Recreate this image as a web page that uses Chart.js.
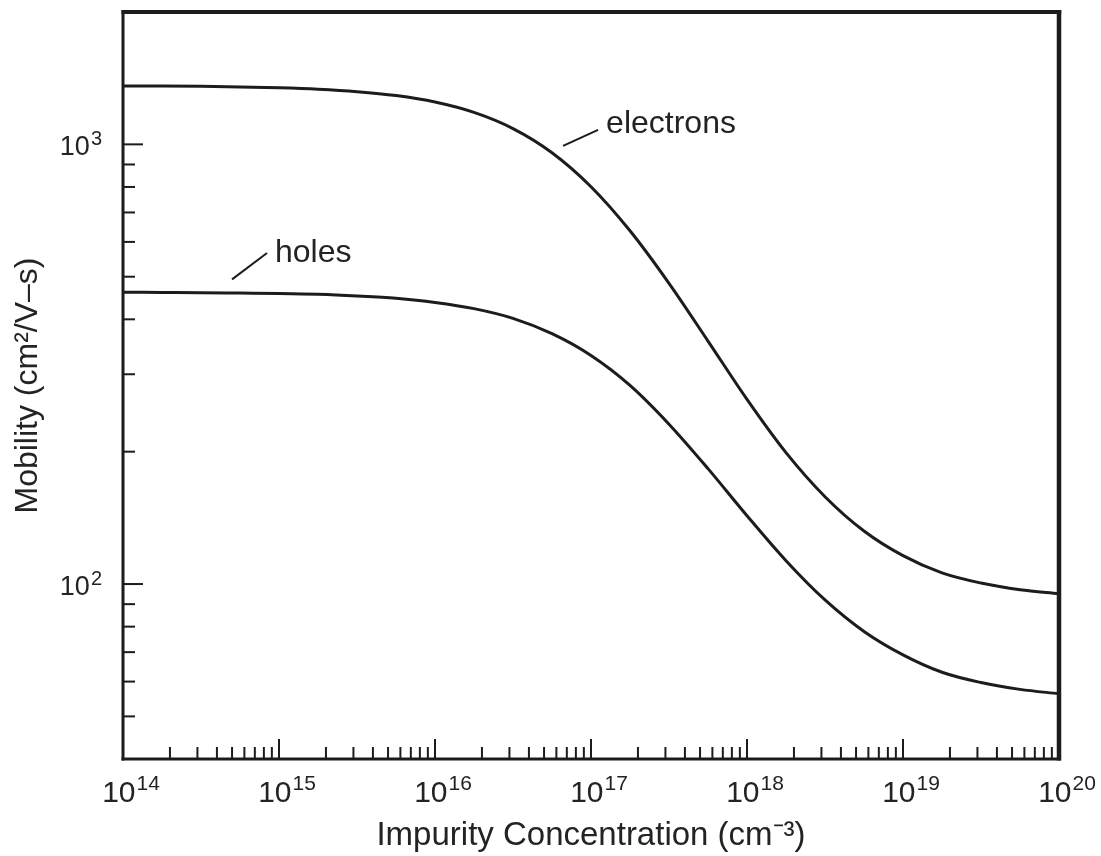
<!DOCTYPE html>
<html><head><meta charset="utf-8">
<script src="https://cdn.jsdelivr.net/npm/chart.js@4.4.1/dist/chart.umd.min.js"></script>
<style>html,body{margin:0;padding:0;background:#fff;}canvas{display:block;}</style>
</head><body>
<canvas id="c" width="1101" height="856"></canvas>
<script>
// ---- data ----
const concentration = [1e14, 1.778e14, 3.162e14, 5.623e14, 1e15, 1.778e15, 3.162e15, 5.623e15,
  1e16, 1.778e16, 3.162e16, 5.623e16, 1e17, 1.778e17, 3.162e17, 5.623e17,
  1e18, 1.778e18, 3.162e18, 5.623e18, 1e19, 1.778e19, 3.162e19, 5.623e19, 1e20];
const electronMobility = [1358, 1357, 1355, 1351, 1345, 1335, 1318, 1291,
  1248, 1182, 1086, 957, 801, 636, 483, 357,
  263, 199, 158, 132, 116, 106, 100.5, 97, 95];
const holeMobility = [461, 460.5, 460, 459, 458, 456, 452, 446.5,
  437, 423, 402, 371, 331, 283, 231, 183,
  143, 113, 92, 78, 69, 63, 59.7, 57.6, 56.3];

// tick labels: base "10" with exponent
const xTickValues = [1e14, 1e15, 1e16, 1e17, 1e18, 1e19, 1e20];
const xTickExponents = ['14', '15', '16', '17', '18', '19', '20'];
const yTickValues = [1e2, 1e3];
const yTickExponents = ['2', '3'];
const tickBase = '10';

const annotationLabels = ['electrons', 'holes'];
const annotationTextX = [1.25e17, 9.43e14];
const annotationTextY = [1062, 540];
const leaderStartX = [6.62e16, 5.0e14];
const leaderStartY = [992, 493];
const leaderEndX = [1.11e17, 8.38e14];
const leaderEndY = [1079, 566];

const FONT = '"Liberation Sans", Arial, Helvetica, sans-serif';
const INK = '#1c1c1c';
const TEXT = '#232323';

function isDecade(v) {
  const e = Math.log10(v);
  return Math.abs(e - Math.round(e)) < 1e-6;
}
function logTicks(min, max) {
  const out = [];
  const e0 = Math.floor(Math.log10(min)), e1 = Math.ceil(Math.log10(max));
  for (let e = e0; e <= e1; e++) {
    for (let m = 1; m <= 9; m++) {
      const v = Number((m * Math.pow(10, e)).toPrecision(6));
      if (v >= min * 0.9999 && v <= max * 1.0001) out.push({value: v, major: m === 1});
    }
  }
  return out;
}
// draws "10" followed by a raised exponent; anchor: 'center' (x is centre of group) or 'right'
function drawPower(ctx, base, exp, x, baseline, baseSize, expSize, rise, anchor) {
  ctx.font = baseSize + 'px ' + FONT;
  const wb = ctx.measureText(base).width;
  ctx.font = expSize + 'px ' + FONT;
  const we = ctx.measureText(exp).width;
  const gap = 1;
  const total = wb + gap + we;
  const left = anchor === 'right' ? x - total : x - total / 2;
  ctx.textAlign = 'left';
  ctx.textBaseline = 'alphabetic';
  ctx.font = baseSize + 'px ' + FONT;
  ctx.fillText(base, left, baseline);
  ctx.font = expSize + 'px ' + FONT;
  ctx.fillText(exp, left + wb + gap, baseline - rise);
}

const framePlugin = {
  id: 'frameAndTicks',
  afterDraw(chart) {
    const {ctx, chartArea: a, scales: {x, y}} = chart;
    ctx.save();
    ctx.strokeStyle = INK;
    ctx.lineCap = 'butt';
    ctx.lineWidth = 2;
    x.ticks.forEach(t => {
      const px = x.getPixelForValue(t.value);
      if (px <= a.left + 2 || px >= a.right - 2) return;
      const len = isDecade(t.value) ? 20 : 12;
      ctx.beginPath(); ctx.moveTo(px, a.bottom); ctx.lineTo(px, a.bottom - len); ctx.stroke();
    });
    y.ticks.forEach(t => {
      const py = y.getPixelForValue(t.value);
      if (py <= a.top + 2 || py >= a.bottom - 2) return;
      const len = isDecade(t.value) ? 20 : 12;
      ctx.beginPath(); ctx.moveTo(a.left, py); ctx.lineTo(a.left + len, py); ctx.stroke();
    });
    // frame
    ctx.lineWidth = 3;
    ctx.beginPath(); ctx.moveTo(a.left, a.top - 2); ctx.lineTo(a.left, a.bottom + 1.5); ctx.stroke();
    ctx.beginPath(); ctx.moveTo(a.left - 1.5, a.bottom); ctx.lineTo(a.right + 2, a.bottom); ctx.stroke();
    ctx.lineWidth = 4;
    ctx.beginPath(); ctx.moveTo(a.left - 1.5, a.top); ctx.lineTo(a.right + 2.25, a.top); ctx.stroke();
    ctx.lineWidth = 4.5;
    ctx.beginPath(); ctx.moveTo(a.right, a.top - 2); ctx.lineTo(a.right, a.bottom + 1.5); ctx.stroke();

    // tick labels
    ctx.fillStyle = TEXT;
    xTickValues.forEach((v, i) => {
      const px = x.getPixelForValue(v);
      drawPower(ctx, tickBase, xTickExponents[i], px + 8, a.bottom + 43, 30, 21, 12, 'center');
    });
    yTickValues.forEach((v, i) => {
      const py = y.getPixelForValue(v);
      drawPower(ctx, tickBase, yTickExponents[i], a.left - 21, py + 11, 27, 20, 10, 'right');
    });

    // annotations
    ctx.lineWidth = 2;
    ctx.font = '32px ' + FONT;
    ctx.textAlign = 'left';
    ctx.textBaseline = 'alphabetic';
    for (let i = 0; i < annotationLabels.length; i++) {
      ctx.beginPath();
      ctx.moveTo(x.getPixelForValue(leaderStartX[i]), y.getPixelForValue(leaderStartY[i]));
      ctx.lineTo(x.getPixelForValue(leaderEndX[i]), y.getPixelForValue(leaderEndY[i]));
      ctx.stroke();
      ctx.fillText(annotationLabels[i], x.getPixelForValue(annotationTextX[i]), y.getPixelForValue(annotationTextY[i]));
    }
    ctx.restore();
  }
};

const lineStyle = {borderColor: INK, borderWidth: 3, pointRadius: 0, fill: false, cubicInterpolationMode: 'monotone'};

new Chart(document.getElementById('c'), {
  type: 'line',
  data: {
    datasets: [
      Object.assign({label: 'electrons', data: concentration.map((c, i) => ({x: c, y: electronMobility[i]}))}, lineStyle),
      Object.assign({label: 'holes', data: concentration.map((c, i) => ({x: c, y: holeMobility[i]}))}, lineStyle)
    ]
  },
  options: {
    responsive: false,
    animation: false,
    events: [],
    layout: {padding: {left: 0, right: 42, top: 12, bottom: 0}},
    plugins: {legend: {display: false}, tooltip: {enabled: false}},
    scales: {
      x: {
        type: 'logarithmic', min: 1e14, max: 1e20,
        grid: {display: false, drawTicks: false, tickLength: 0},
        border: {display: false},
        afterBuildTicks(s) { s.ticks = logTicks(1e14, 1e20); },
        ticks: {display: false, autoSkip: false, maxRotation: 0, minRotation: 0},
        title: {display: true, text: 'Impurity Concentration (cm⁻³)', color: TEXT,
          font: {family: FONT, size: 33}, padding: {top: 0, bottom: 0}},
        afterFit(s) { s.height = 97; s.paddingLeft = 0; s.paddingRight = 0; }
      },
      y: {
        type: 'logarithmic', min: 40, max: 2000,
        grid: {display: false, drawTicks: false, tickLength: 0},
        border: {display: false},
        afterBuildTicks(s) { s.ticks = logTicks(40, 2000); },
        ticks: {display: false, autoSkip: false},
        title: {display: true, text: 'Mobility (cm²/V–s)', color: TEXT,
          font: {family: FONT, size: 32}, padding: {top: 9, bottom: 0}},
        afterFit(s) { s.width = 123; s.paddingTop = 0; s.paddingBottom = 0; }
      }
    }
  },
  plugins: [framePlugin]
});
</script>
</body></html>
